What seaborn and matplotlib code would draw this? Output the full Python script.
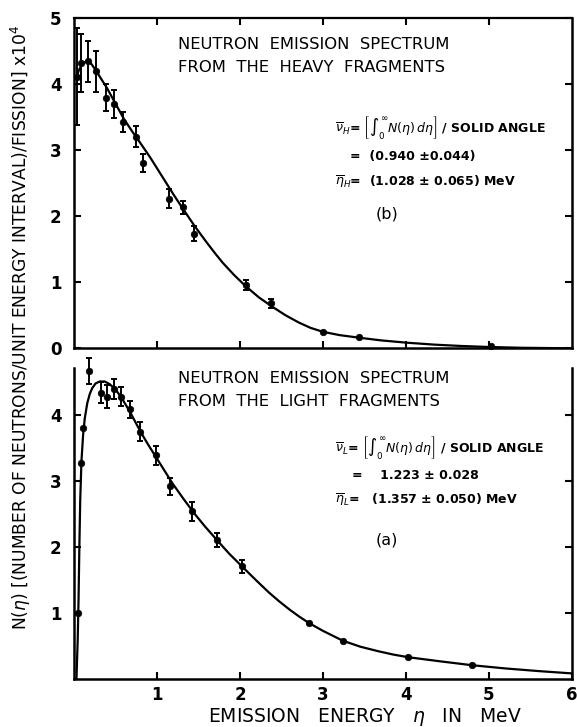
import matplotlib
matplotlib.use("Agg")
import matplotlib.pyplot as plt
import seaborn as sns
import numpy as np

# --- datos ---
# (b) fragmentos pesados: puntos medidos
heavy_x = [0.04, 0.09, 0.17, 0.27, 0.38, 0.48, 0.585, 0.75, 0.83, 1.14, 1.31, 1.45, 2.07, 2.37, 3.00, 3.44, 5.02]
heavy_y = [4.12, 4.33, 4.35, 4.20, 3.80, 3.70, 3.43, 3.21, 2.81, 2.27, 2.14, 1.74, 0.96, 0.68, 0.25, 0.17, 0.03]
heavy_err = [0.73, 0.44, 0.31, 0.31, 0.20, 0.21, 0.15, 0.16, 0.13, 0.14, 0.10, 0.11, 0.08, 0.07, 0.0, 0.0, 0.0]
# (b) curva ajustada
heavy_curve_x = [0.035, 0.06, 0.10, 0.16, 0.21, 0.26, 0.33, 0.40, 0.50, 0.60, 0.70, 0.79, 0.92, 1.00,
                 1.11, 1.20, 1.31, 1.45, 1.59, 1.70, 1.79, 1.93, 2.07, 2.23, 2.39, 2.55, 2.71, 2.85,
                 3.00, 3.20, 3.44, 3.70, 4.01, 4.35, 4.67, 5.00, 5.40, 6.00]
heavy_curve_y = [4.12, 4.22, 4.31, 4.36, 4.31, 4.22, 4.08, 3.94, 3.71, 3.48, 3.29, 3.13, 2.89, 2.73,
                 2.51, 2.33, 2.12, 1.86, 1.62, 1.44, 1.30, 1.11, 0.94, 0.77, 0.63, 0.50, 0.39, 0.31,
                 0.25, 0.20, 0.16, 0.12, 0.085, 0.055, 0.035, 0.02, 0.008, 0.0]

# (a) fragmentos ligeros: puntos medidos
light_x = [0.05, 0.09, 0.11, 0.18, 0.32, 0.40, 0.48, 0.57, 0.67, 0.80, 0.99, 1.16, 1.42, 1.72, 2.03,
           2.83, 3.24, 4.03, 4.79]
light_y = [1.00, 3.27, 3.80, 4.67, 4.34, 4.28, 4.40, 4.28, 4.09, 3.75, 3.39, 2.92, 2.54, 2.11, 1.71,
           0.85, 0.57, 0.34, 0.21]
light_err = [0.0, 0.0, 0.0, 0.20, 0.16, 0.17, 0.15, 0.14, 0.13, 0.14, 0.14, 0.13, 0.14, 0.11, 0.10,
             0.0, 0.0, 0.0, 0.0]
# (a) curva ajustada
light_curve_x = [0.03, 0.045, 0.055, 0.065, 0.075, 0.09, 0.11, 0.13, 0.16, 0.19, 0.22, 0.26, 0.31,
                 0.37, 0.43, 0.50, 0.57, 0.67, 0.81, 0.90, 0.99, 1.09, 1.19, 1.32, 1.45, 1.58, 1.72,
                 1.87, 2.03, 2.20, 2.35, 2.47, 2.60, 2.71, 2.83, 3.00, 3.24, 3.45, 3.67, 3.85, 4.03,
                 4.40, 4.79, 5.20, 5.60, 6.00]
light_curve_y = [0.0, 0.6, 1.2, 2.0, 2.7, 3.3, 3.7, 3.95, 4.18, 4.32, 4.41, 4.48, 4.51,
                 4.51, 4.47, 4.39, 4.27, 4.06, 3.73, 3.54, 3.36, 3.16, 2.96, 2.73, 2.51, 2.31, 2.11,
                 1.90, 1.70, 1.49, 1.31, 1.18, 1.05, 0.95, 0.85, 0.73, 0.58, 0.49, 0.42, 0.37, 0.33,
                 0.27, 0.21, 0.16, 0.12, 0.085]

x_ticks = [1, 2, 3, 4, 5, 6]
heavy_yticks = [0, 1, 2, 3, 4, 5]
light_yticks = [1, 2, 3, 4]

ylabel = r"N($\eta$) [(NUMBER OF NEUTRONS/UNIT ENERGY INTERVAL)/FISSION] x10$^4$"
xlabel = r"EMISSION   ENERGY   $\eta$   IN   MeV"

# --- estilo ---
sns.set_style("ticks")
plt.rcParams["font.family"] = ["DejaVu Sans"]
plt.rcParams["mathtext.fontset"] = "dejavusans"
plt.rcParams["text.color"] = "black"
plt.rcParams["xtick.color"] = "black"
plt.rcParams["ytick.color"] = "black"
plt.rcParams["axes.labelcolor"] = "black"

fig = plt.figure(figsize=(5.77, 7.27), dpi=100)
ax_h = fig.add_axes([0.1282, 0.5209, 0.8631, 0.4537])
ax_l = fig.add_axes([0.1282, 0.066, 0.8631, 0.4274])


def draw_panel(ax, cx, cy, px, py, perr):
    sns.lineplot(x=cx, y=cy, ax=ax, color="black", lw=1.6, sort=False, estimator=None)
    sel = [i for i, e in enumerate(perr) if e > 0]
    ax.errorbar([px[i] for i in sel], [py[i] for i in sel], yerr=[perr[i] for i in sel],
                fmt="none", ecolor="black", elinewidth=1.4, capsize=2.5, capthick=1.4,
                clip_on=False, zorder=3)
    sns.scatterplot(x=px, y=py, ax=ax, color="black", s=22, edgecolor="black",
                    linewidth=0.5, zorder=4, clip_on=False)
    ax.set_xlim(0, 6)
    ax.set_xlabel("")
    ax.set_ylabel("")
    ax.tick_params(direction="in", length=5, width=1.5, right=True,
                   labelsize=12, pad=9, colors="black")
    for s in ["left", "bottom", "right"]:
        ax.spines[s].set_linewidth(1.8)
        ax.spines[s].set_color("black")


# (b) pesados
draw_panel(ax_h, heavy_curve_x, heavy_curve_y, heavy_x, heavy_y, heavy_err)
ax_h.set_ylim(0, 5)
ax_h.set_yticks(heavy_yticks)
ax_h.set_xticks(x_ticks[:-1])
ax_h.tick_params(top=True, labelbottom=False)
ax_h.spines["top"].set_linewidth(1.6)
ax_h.spines["top"].set_color("black")
for lab in ax_h.get_yticklabels():
    lab.set_fontweight("bold")

# (a) ligeros
draw_panel(ax_l, light_curve_x, light_curve_y, light_x, light_y, light_err)
ax_l.set_ylim(0, 4.71)
ax_l.set_yticks(light_yticks)
ax_l.set_xticks(x_ticks)
ax_l.spines["top"].set_visible(False)
ax_l.tick_params(axis="x", pad=5)
for lab in ax_l.get_yticklabels() + ax_l.get_xticklabels():
    lab.set_fontweight("bold")

# --- textos ---
tkw = dict(fontsize=11.8, va="center", ha="left")
fkw = dict(fontsize=9, va="center", ha="left", fontweight="bold")

ax_h.text(1.25, 4.61, "NEUTRON  EMISSION  SPECTRUM", **tkw)
ax_h.text(1.25, 4.26, "FROM  THE  HEAVY  FRAGMENTS", **tkw)
ax_h.text(3.14, 3.35, r"$\overline{\nu}_H$= $\left[\int_0^\infty N(\eta)\,d\eta\right]$ / SOLID ANGLE", **fkw)
ax_h.text(3.33, 2.90, "=  (0.940 ±0.044)", **fkw)
ax_h.text(3.14, 2.52, r"$\overline{\eta}_H$=  (1.028 ± 0.065) MeV", **fkw)
ax_h.text(3.77, 2.04, "(b)", fontsize=11.5, va="center", ha="center")

ax_l.text(1.25, 4.56, "NEUTRON  EMISSION  SPECTRUM", **tkw)
ax_l.text(1.25, 4.20, "FROM  THE  LIGHT  FRAGMENTS", **tkw)
ax_l.text(3.14, 3.51, r"$\overline{\nu}_L$= $\left[\int_0^\infty N(\eta)\,d\eta\right]$ / SOLID ANGLE", **fkw)
ax_l.text(3.35, 3.09, "=    1.223 ± 0.028", **fkw)
ax_l.text(3.14, 2.71, r"$\overline{\eta}_L$=   (1.357 ± 0.050) MeV", **fkw)
ax_l.text(3.77, 2.11, "(a)", fontsize=11.5, va="center", ha="center")

fig.text(0.036, 0.55, ylabel, rotation=90, ha="center", va="center", fontsize=12.3)
fig.text(0.633, 0.014, xlabel, ha="center", va="center", fontsize=13.5)

fig.savefig("out.png", dpi=100)
